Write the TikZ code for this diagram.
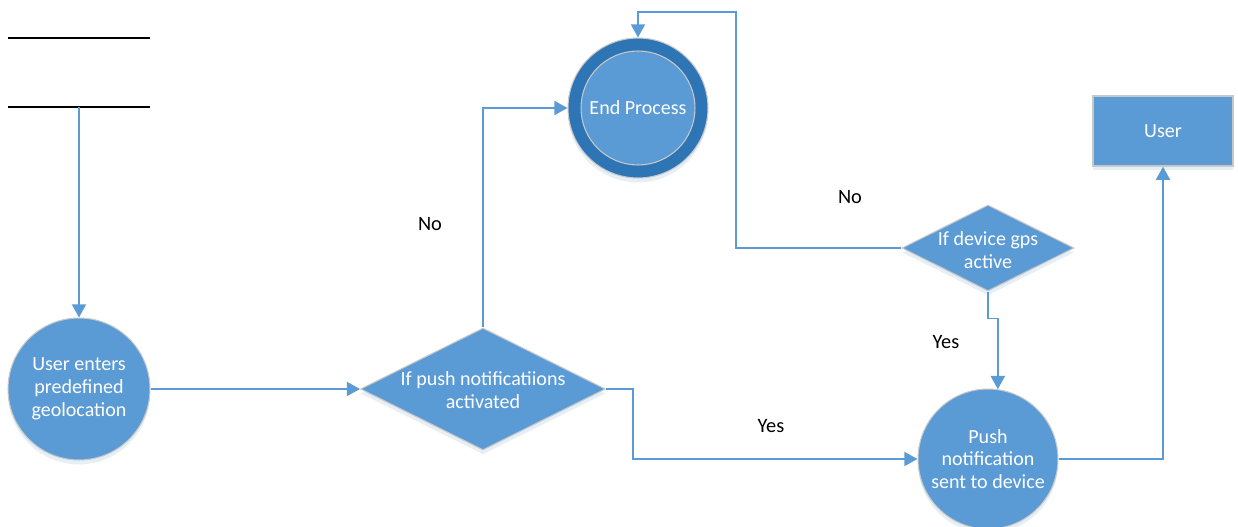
\documentclass[tikz,border=0pt]{standalone}
\usepackage{fontspec}
\setmainfont{Carlito}
\usetikzlibrary{arrows.meta,shapes.geometric,shadows}
\definecolor{boxblue}{HTML}{5B9BD5}
\definecolor{ringblue}{HTML}{2E75B6}
\definecolor{edgegray}{HTML}{C8C8C8}
\definecolor{flowblue}{HTML}{5B9BD5}
\tikzset{
  softshadow/.style={drop shadow={opacity=0.12,shadow xshift=0pt,shadow yshift=-2.5pt,fill=ringblue}},
  shapetext/.style={text=white,font=\fontsize{11.4pt}{13pt}\selectfont,align=center},
  procircle/.style={circle,fill=boxblue,draw=edgegray,line width=0.6pt,inner sep=0pt,softshadow,shapetext},
  decision/.style={diamond,fill=boxblue,draw=edgegray,line width=0.6pt,inner sep=0pt,shape aspect=2,softshadow},
  entity/.style={rectangle,fill=boxblue,draw=edgegray,line width=0.8pt,inner sep=0pt,softshadow,shapetext},
  flow/.style={draw=flowblue,line width=1.1pt,-{Triangle[width=8pt,length=7.5pt]}},
  storeline/.style={draw=black,line width=0.9pt},
  answer/.style={text=black,font=\fontsize{11.6pt}{13pt}\selectfont}
}
\begin{document}
\begin{tikzpicture}[x=0.02cm,y=-0.02cm]
  \useasboundingbox (0,0) rectangle (1238,527);

  % data store (two parallel bars)
  \draw[storeline] (8,38) -- (150,38);
  \draw[storeline] (8,107) -- (150,107);
  \coordinate (ds) at (79,107);

  % process and decision shapes
  \node[procircle,minimum size=2.84cm] (geo) at (79,389)
    {User enters\\predefined\\geolocation};
  \node[decision,minimum width=4.9cm,minimum height=2.44cm] (pushq) at (483,389) {};
  \node[shapetext] (pushqtext) at (483,390) {If push notificatiions\\activated};

  \node[circle,fill=ringblue,draw=edgegray,line width=0.6pt,minimum size=2.8cm,softshadow] (endp) at (638,108) {};
  \node[procircle,minimum size=2.28cm] (endin) at (638,108) {End Process};

  \node[decision,minimum width=3.44cm,minimum height=1.72cm] (gpsq) at (988,248) {};
  \node[shapetext] (gpsqtext) at (988,250) {If device gps\\active};

  \node[procircle,minimum size=2.8cm] (push) at (988,459)
    {Push\\notification\\sent to device};

  \node[entity,minimum width=2.8cm,minimum height=1.4cm] (user) at (1163,131) {User};

  % connectors
  \draw[flow] (ds) -- (geo.north);
  \draw[flow] (geo.east) -- (pushq.west);
  \draw[flow] (pushq.north) |- (endp.west);
  \draw[flow] (pushq.east) -- ++(27,0) |- (push.west);
  \draw[flow] (gpsq.west) -| (736,12) -| (endp.north);
  \draw[flow] (gpsq.south) -- ++(0,27) -| (push.82.6);
  \draw[flow] (push.east) -| (user.south);

  % branch labels
  \node[answer] (no1) at (430,224) {No};
  \node[answer] (no2) at (850,197) {No};
  \node[answer] (yes1) at (771,426) {Yes};
  \node[answer] (yes2) at (946,342) {Yes};
\end{tikzpicture}
\end{document}
